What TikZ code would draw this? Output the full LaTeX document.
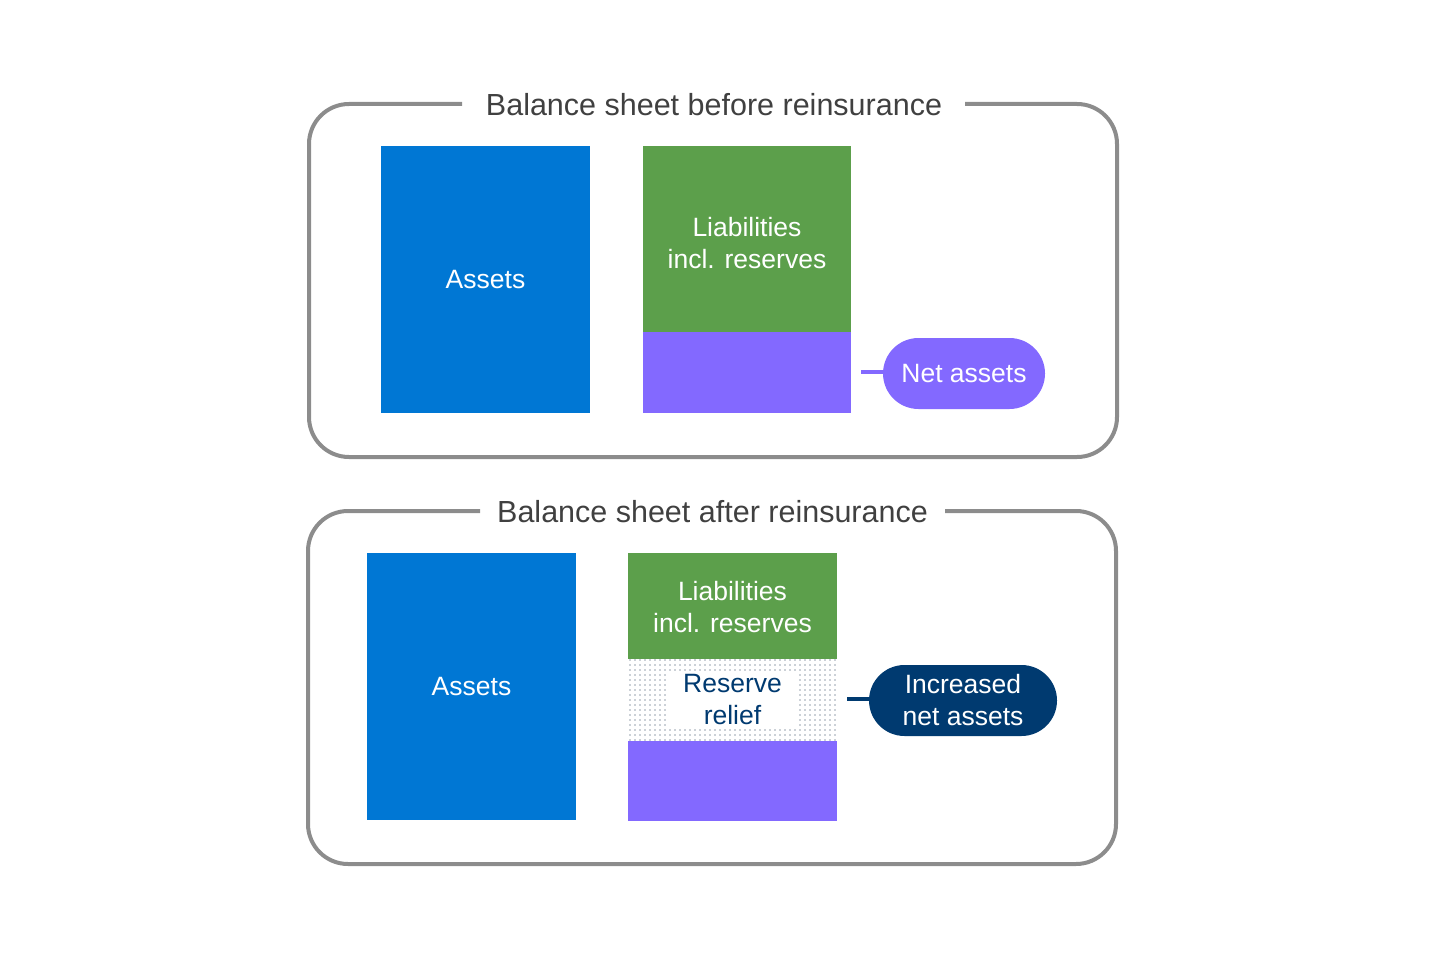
\documentclass[tikz,border=0pt]{standalone}
\usepackage{fontspec}
\setmainfont{Liberation Sans}
\usetikzlibrary{patterns.meta}
\definecolor{assetblue}{HTML}{0077D4}
\definecolor{liabgreen}{HTML}{5C9F4B}
\definecolor{netpurple}{HTML}{8369FF}
\definecolor{darknavy}{HTML}{003A70}
\definecolor{framegray}{HTML}{8C8C8C}
\definecolor{titlegray}{HTML}{404040}
\definecolor{dotgray}{HTML}{98A2AE}
\begin{document}
\begin{tikzpicture}[
          x=1pt, y=-1pt,
          block/.style={
            rectangle,
            inner sep=0pt,
            text=white,
            align=center,
            font=\fontsize{26.5}{32}\selectfont,
          },
          pill/.style={
            block,
            rounded corners=35.5pt,
            minimum height=71pt,
          },
          frame/.style={
            draw=framegray,
            line width=4pt,
            rounded corners=40pt,
          },
          heading/.style={
            text=titlegray,
            font=\fontsize{30.5}{36}\selectfont,
          },
        ]
          \useasboundingbox (0,0) rectangle (1440,960);

          % before reinsurance
          \node[heading](t1) at (714,105) {Balance sheet before reinsurance};
          \draw[frame] (462,104) -- (309,104) -- (309,457) -- (1117,457)
              -- (1117,104) -- (965,104);
          \node[block, fill=assetblue, minimum width=209pt, minimum height=267pt]
              (a1) at (485.5,279.5) {Assets};
          \node[block, fill=liabgreen, minimum width=208pt, minimum height=186pt]
              (l1) at (747,239) {};
          \node[block] (lt1) at (747,243) {Liabilities\\incl. reserves};
          \node[block, fill=netpurple, minimum width=208pt, minimum height=81pt]
              (n1) at (747,372.5) {};
          \node[pill, fill=netpurple, minimum width=162pt]
              (p1) at (964,373.5) {Net assets};
          \coordinate (c1) at (861,372);
          \draw[netpurple, line width=4pt] (c1) -- (c1 -| p1.west);

          % after reinsurance
          \node[heading](t2) at (712.5,512) {Balance sheet after reinsurance};
          \draw[frame] (480,511) -- (308,511) -- (308,864) -- (1116,864)
              -- (1116,511) -- (945,511);
          \node[block, fill=assetblue, minimum width=209pt, minimum height=267pt]
              (a2) at (471.5,686.5) {Assets};
          \node[block, fill=liabgreen, minimum width=209pt, minimum height=106pt]
              (l2) at (732.5,606) {};
          \node[block] (lt2) at (732.5,607) {Liabilities\\incl. reserves};
          \node[block, minimum width=209pt, minimum height=82pt,
              pattern={Dots[distance=5pt, radius=0.8pt]}, pattern color=dotgray]
              (r2) at (732.5,700) {};
          \node[block, fill=white, text=darknavy, minimum width=131pt,
              minimum height=52pt] (rt2) at (r2.center) {Reserve\\relief};
          \node[block, fill=netpurple, minimum width=209pt, minimum height=80pt]
              (n2) at (732.5,781) {};
          \node[pill, fill=darknavy, minimum width=188pt]
              (p2) at (963,700.5) {Increased\\net assets};
          \coordinate (c2) at (847,699);
          \draw[darknavy, line width=4pt] (c2) -- (c2 -| p2.west);
\end{tikzpicture}
\end{document}
